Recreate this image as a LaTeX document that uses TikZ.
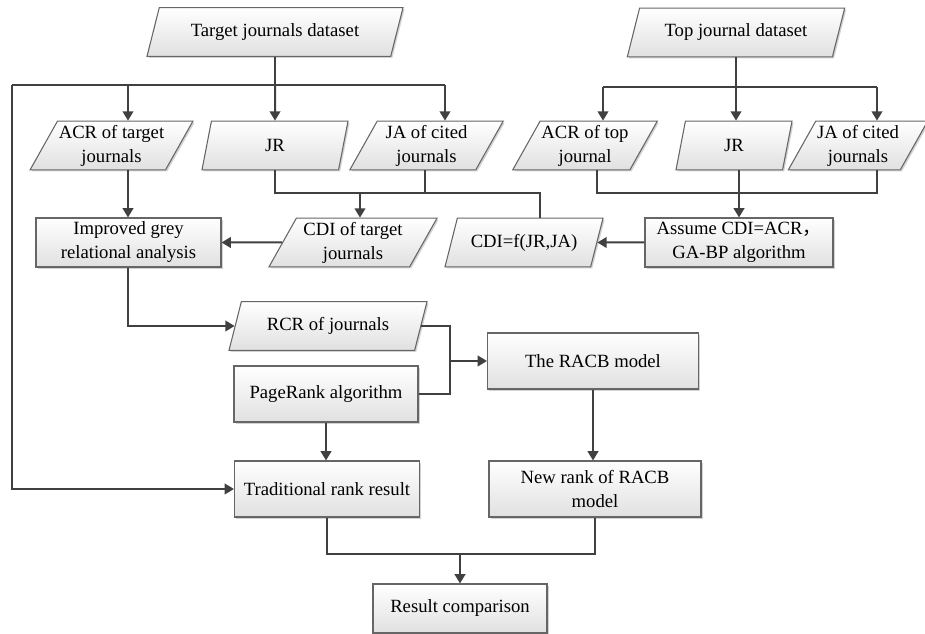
\documentclass[tikz,border=0pt]{standalone}
\usepackage{fontspec}
\setmainfont{Liberation Serif}
\newfontfamily\cjk{Noto Sans CJK SC}
\usetikzlibrary{shapes.geometric,arrows.meta,shadows,calc}
\begin{document}
\begin{tikzpicture}[x=0.75pt,y=-0.75pt,
  base/.style={draw=black!60, line width=0.8pt, top color=white, bottom color=black!12,
    font=\fontsize{14}{18}\selectfont, align=center, inner sep=1pt,
    drop shadow={shadow xshift=1.2pt,shadow yshift=-1.2pt,fill=black!35}},
  para/.style={base, trapezium, trapezium left angle=58, trapezium right angle=122,
    trapezium stretches body, minimum height=36.5pt},
  box/.style={base, rectangle},
  line/.style={draw=black!75, line width=1.5pt},
  arr/.style={line, -{Triangle[length=7pt,width=8pt]}},
]
\useasboundingbox (0,0) rectangle (925,634);

% parallelograms
\node[para, minimum width=192pt] (tgt) at (275,32) {Target journals dataset};
\node[para, minimum width=163pt] (top) at (736,32.5) {Top journal dataset};
\node[para, minimum width=119pt] (acrt) at (111.5,145.5) {ACR of target\\journals};
\node[para, minimum width=109.5pt] (jrt) at (275,145.5) {JR};
\node[para, minimum width=115pt] (jat) at (426.5,145.5) {JA of cited\\journals};
\node[para, minimum width=105pt] (acrp) at (585,145.5) {ACR of top\\journal};
\node[para, minimum width=87pt] (jrp) at (734,145.5) {JR};
\node[para, minimum width=97.5pt] (jap) at (858,145.5) {JA of cited\\journals};
\node[para, minimum width=126pt] (cdit) at (353,242.5) {CDI of target\\journals};
\node[para, minimum width=118.5pt] (cdif) at (524,242.5) {CDI=f(JR,JA)};
\node[para, minimum width=148.5pt] (rcr) at (328,326) {RCR of journals};

% rectangles
\node[box, minimum width=138.75pt, minimum height=36.75pt] (grey) at (128.5,242.5) {Improved grey\\relational analysis};
\node[box, minimum width=141pt, minimum height=36.75pt] (assume) at (739,242.5) {Assume CDI=ACR{\cjk ，}\\GA-BP algorithm};
\node[box, minimum width=138pt, minimum height=42pt] (pr) at (326,394) {PageRank algorithm};
\node[box, minimum width=158.25pt, minimum height=42pt] (racb) at (593,361) {The RACB model};
\node[box, minimum width=138.75pt, minimum height=42pt] (trad) at (327,489) {Traditional rank result};
\node[box, minimum width=159pt, minimum height=42pt] (newr) at (595,489) {New rank of RACB\\model};
\node[box, minimum width=130.5pt, minimum height=36.75pt] (res) at (460,608.5) {Result comparison};

% target dataset branches
\coordinate (L) at (12,85);
\coordinate (R) at (445,85);
\coordinate (xa) at (128,85);
\draw[line] (tgt.south) -- (tgt.south |- L);
\draw[line] (L) -- (R);
\draw[arr] (xa) -- (xa |- acrt.north);
\draw[arr] (tgt.south |- L) -- (jrt.north);
\draw[arr] (R) -- (R |- jat.north);
\draw[arr] (L) |- (trad.west);

% JR / JA of target journals
\coordinate (j1) at (360,193);
\coordinate (j2) at (540,193);
\coordinate (j3) at (425,193);
\draw[line] (jrt.south) |- (j2) -- (j2 |- cdif.north);
\draw[line] (j3 |- jat.south) -- (j3);
\draw[arr] (j1) -- (j1 |- cdit.north);
\draw[arr] (xa |- acrt.south) -- (xa |- grey.north);
\draw[arr] (cdit.west) -- (grey.east);
\draw[arr] (xa |- grey.south) |- (rcr.west);

% RCR + PageRank -> RACB
\coordinate (m) at (450,361);
\draw[line] (rcr.east) -| (m);
\draw[line] (pr.east) -| (m);
\draw[arr] (m) -- (racb.west);
\draw[arr] (pr.south) -- (pr.south |- trad.north);

% top journal dataset branches
\coordinate (L2) at (603,87);
\coordinate (R2) at (877,87);
\draw[line] (top.south) -- (top.south |- L2);
\draw[line] (L2) -- (R2);
\draw[arr] (L2) -- (L2 |- acrp.north);
\draw[arr] (top.south |- L2) -- (top.south |- jrp.north);
\draw[arr] (R2) -- (R2 |- jap.north);
\coordinate (k1) at (597,193);
\coordinate (k2) at (877,193);
\draw[line] (k1 |- acrp.south) -- (k1) -- (k2) -- (k2 |- jap.south);
\draw[arr] (assume.north |- jrp.south) -- (assume.north);
\draw[arr] (assume.west) -- (cdif.east);

% bottom
\draw[arr] (racb.south) -- (racb.south |- newr.north);
\coordinate (b) at (460,554);
\draw[line] (trad.south) |- (b) -| (newr.south);
\draw[arr] (b) -- (res.north);
\end{tikzpicture}
\end{document}
